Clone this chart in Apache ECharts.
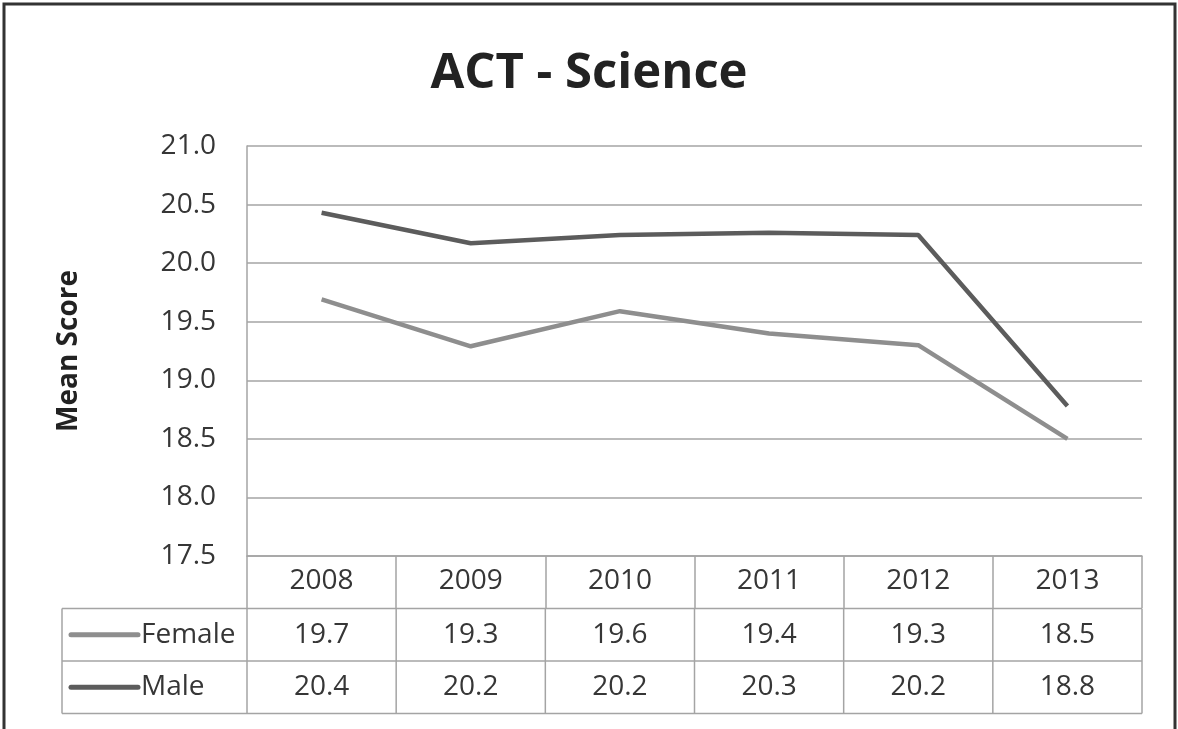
<!DOCTYPE html>
<html>
<head>
<meta charset="utf-8">
<script src="https://cdn.jsdelivr.net/npm/echarts@6/dist/echarts.min.js"></script>
<style>
  html, body { margin: 0; padding: 0; background: #ffffff; }
  #chart { width: 1178px; height: 729px; }
</style>
</head>
<body>
<div id="chart"></div>
<script>
// ---- data ----
const titleText = 'ACT - Science';
const yAxisName = 'Mean Score';
const years = ['2008', '2009', '2010', '2011', '2012', '2013'];
const femaleValues = [19.69, 19.29, 19.59, 19.40, 19.30, 18.50];
const maleValues   = [20.43, 20.17, 20.24, 20.26, 20.24, 18.78];
const seriesNames = ['Female', 'Male'];
const yMin = 17.5, yMax = 21.0, yStep = 0.5;

// ---- style ----
const FONT = '"Open Sans", sans-serif';
const femaleColor = '#8e8e8e';
const maleColor = '#5c5c5c';
const gridColor = '#a4a4a4';
const textColor = '#363636';

const chart = echarts.init(document.getElementById('chart'), null, { renderer: 'canvas' });

const option = {
  backgroundColor: '#ffffff',
  animation: false,
  title: {
    text: titleText,
    left: 'center',
    top: 45,
    textStyle: { fontFamily: FONT, fontSize: 49, fontWeight: 'bold', color: '#222222' }
  },
  grid: { left: 247, top: 146, right: 36, bottom: 173, containLabel: false },
  xAxis: {
    type: 'category',
    data: years,
    boundaryGap: true,
    axisLine: { show: true, lineStyle: { color: gridColor, width: 1.5 } },
    axisTick: { show: true, length: 52, lineStyle: { color: gridColor, width: 1.5 } },
    axisLabel: { margin: 11, fontFamily: FONT, fontSize: 28, color: textColor }
  },
  yAxis: {
    type: 'value',
    min: yMin, max: yMax, interval: yStep,
    name: yAxisName,
    nameLocation: 'middle',
    nameRotate: 90,
    nameGap: 164,
    nameTextStyle: { fontFamily: FONT, fontSize: 28, fontWeight: 'bold', color: '#222222' },
    axisLine: { show: true, lineStyle: { color: gridColor, width: 1.5 } },
    axisTick: { show: false },
    axisLabel: {
      margin: 31, fontFamily: FONT, fontSize: 28, color: textColor,
      formatter: v => v.toFixed(1)
    },
    splitLine: { show: true, lineStyle: { color: gridColor, width: 1.5 } }
  },
  series: [
    {
      name: seriesNames[0], type: 'line', data: femaleValues,
      showSymbol: false, symbol: 'none',
      lineStyle: { color: femaleColor, width: 4.5 }, itemStyle: { color: femaleColor }
    },
    {
      name: seriesNames[1], type: 'line', data: maleValues,
      showSymbol: false, symbol: 'none',
      lineStyle: { color: maleColor, width: 4.5 }, itemStyle: { color: maleColor }
    }
  ]
};
chart.setOption(option);

// ---- data table below the plot, positioned from the axis scales ----
const centers = years.map(y => chart.convertToPixel({ xAxisIndex: 0 }, y));
const half = (centers[1] - centers[0]) / 2;
const colLeft = centers[0] - half;
const colRight = centers[centers.length - 1] + half;
const tableTop = chart.convertToPixel({ yAxisIndex: 0 }, yMin);
const rowH = 52.5;
const tableLeft = 62;
const rowsTop = tableTop + rowH;
const rows = [
  { name: seriesNames[0], values: femaleValues, color: femaleColor },
  { name: seriesNames[1], values: maleValues, color: maleColor }
];
const g = [];
const lineStyle = { stroke: gridColor, lineWidth: 1.5 };
for (let r = 0; r <= rows.length; r++) {
  const y = rowsTop + r * rowH;
  g.push({ type: 'line', shape: { x1: tableLeft, y1: y, x2: colRight, y2: y }, style: lineStyle, silent: true });
}
const vx = [tableLeft, colLeft].concat(centers.map(c => c + half));
vx.forEach(x => {
  g.push({ type: 'line', shape: { x1: x, y1: rowsTop, x2: x, y2: rowsTop + rows.length * rowH }, style: lineStyle, silent: true });
});
rows.forEach((row, r) => {
  const cy = rowsTop + r * rowH + rowH / 2;
  g.push({ type: 'line', shape: { x1: 71, y1: cy, x2: 138, y2: cy },
           style: { stroke: row.color, lineWidth: 5, lineCap: 'round' }, silent: true });
  g.push({ type: 'text', x: 141, y: cy,
           style: { text: row.name, fontFamily: FONT, fontSize: 28, fill: textColor, textAlign: 'left', textVerticalAlign: 'middle' }, silent: true });
  row.values.forEach((v, i) => {
    g.push({ type: 'text', x: centers[i], y: cy,
             style: { text: v.toFixed(1), fontFamily: FONT, fontSize: 28, fill: textColor, textAlign: 'center', textVerticalAlign: 'middle' }, silent: true });
  });
});
// outer frame
g.push({ type: 'rect', shape: { x: 4, y: 4, width: 1171, height: 780 },
         style: { fill: 'none', stroke: '#333333', lineWidth: 3 }, silent: true });
chart.setOption({ graphic: g });
</script>
</body>
</html>
